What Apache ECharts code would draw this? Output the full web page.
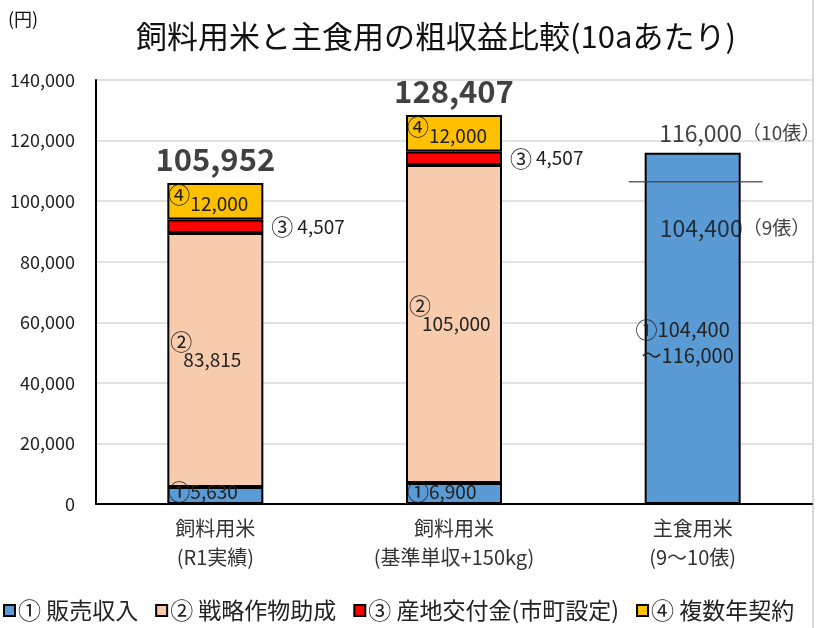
<!DOCTYPE html>
<html>
<head>
<meta charset="utf-8">
<script src="https://cdn.jsdelivr.net/npm/echarts@6/dist/echarts.min.js"></script>
<style>
  html, body { margin: 0; padding: 0; background: #fff; }
  #chart { width: 816px; height: 628px; }
</style>
</head>
<body>
<div id="chart"></div>
<script>
  var categories = ['飼料用米\n(R1実績)', '飼料用米\n(基準単収+150kg)', '主食用米\n(9～10俵)']
  var seriesNames = ['① 販売収入', '② 戦略作物助成', '③ 産地交付金(市町設定)', '④ 複数年契約']
  var sales = [5630, 6900, 116000]
  var subsidy = [83815, 105000, '-']
  var local = [4507, 4507, '-']
  var contract = [12000, 12000, '-']
  var totals = [105952, 128407, 116000]
  var staple9 = 104400
  var staple10 = 116000
  var yTicks = [0, 20000, 40000, 60000, 80000, 100000, 120000, 140000]

  var font = '"Noto Sans CJK JP", "Noto Sans", sans-serif'
  var fmt = function (v) {
    return Number(v).toLocaleString('en-US')
  }
  var circ = { fontSize: 22, color: '#222', fontFamily: font }
  var num = { fontSize: 19, color: '#222', fontFamily: font }
  var border = { borderColor: '#000', borderWidth: 2 }

  var chart = echarts.init(document.getElementById('chart'))

  chart.setOption({
    backgroundColor: '#fff',
    animation: false,
    title: {
      text: '飼料用米と主食用の粗収益比較(10aあたり)',
      left: 431,
      top: 16,
      textAlign: 'center',
      textStyle: { fontSize: 31, fontWeight: 'normal', color: '#111', fontFamily: font },
    },
    graphic: [
      {
        type: 'text',
        left: 8,
        top: 10,
        style: { text: '(円)', fontSize: 18, fill: '#111', fontFamily: font },
      },
      {
        type: 'line',
        shape: { x1: 813, y1: 0, x2: 813, y2: 628 },
        style: { stroke: '#d9d9d9', lineWidth: 2 },
      },
    ],
    legend: {
      left: -2,
      bottom: 1,
      itemWidth: 11,
      itemHeight: 11,
      itemGap: 17,
      icon: 'rect',
      data: seriesNames,
      textStyle: { fontSize: 23, color: '#222', fontFamily: font, padding: [0, 0, 0, -2] },
    },
    grid: { left: 96, right: 4, top: 80, bottom: 124 },
    xAxis: {
      type: 'category',
      data: categories,
      axisTick: { show: false },
      axisLine: { lineStyle: { color: '#000', width: 2 } },
      axisLabel: { fontSize: 20, color: '#333', lineHeight: 29, margin: 10, fontFamily: font },
    },
    yAxis: {
      type: 'value',
      min: 0,
      max: 140000,
      interval: 20000,
      axisLine: { show: true, lineStyle: { color: '#000', width: 2 } },
      axisTick: { show: false },
      axisLabel: {
        fontSize: 18,
        color: '#222',
        margin: 21,
        fontFamily: font,
        formatter: function (v) {
          return yTicks.indexOf(v) >= 0 ? fmt(v) : ''
        },
      },
      splitLine: { lineStyle: { color: '#d9d9d9', width: 1.5 } },
    },
    series: [
      {
        name: seriesNames[0],
        type: 'bar',
        stack: 'total',
        barWidth: 96,
        itemStyle: Object.assign({ color: '#5B9BD5' }, border),
        label: {
          show: true,
          position: 'insideBottomLeft',
          distance: 1,
          rich: { c: circ, v: num },
          formatter: function (p) {
            return '{c|①}{v|' + fmt(p.value) + '}'
          },
        },
        data: [
          sales[0],
          sales[1],
          {
            value: sales[2],
            label: {
              position: 'inside',
              offset: [-10, 14],
              lineHeight: 26,
              rich: {
                c: circ,
                v: { fontSize: 20, color: '#222', fontFamily: font },
              },
              formatter: '{c|①}{v|' + fmt(staple9) + '}\n   {v|～' + fmt(staple10) + '}',
            },
          },
        ],
      },
      {
        name: seriesNames[1],
        type: 'bar',
        stack: 'total',
        itemStyle: Object.assign({ color: '#F8CBAD' }, border),
        label: {
          show: true,
          position: 'insideLeft',
          distance: 3,
          offset: [0, -9],
          lineHeight: 18,
          rich: {
            c: circ,
            v: { fontSize: 19, color: '#222', fontFamily: font, padding: [0, 0, 0, 13] },
          },
          formatter: function (p) {
            return '{c|②}\n{v|' + fmt(p.value) + '}'
          },
        },
        data: subsidy,
      },
      {
        name: seriesNames[2],
        type: 'bar',
        stack: 'total',
        itemStyle: Object.assign({ color: '#FF0000' }, border),
        label: {
          show: true,
          position: 'right',
          distance: 8,
          rich: {
            c: circ,
            v: { fontSize: 19, color: '#222', fontFamily: font, padding: [0, 0, 0, 4] },
          },
          formatter: function (p) {
            return '{c|③}{v|' + fmt(p.value) + '}'
          },
        },
        data: local,
      },
      {
        name: seriesNames[3],
        type: 'bar',
        stack: 'total',
        itemStyle: Object.assign({ color: '#FFC000' }, border),
        label: {
          show: true,
          position: 'insideLeft',
          distance: 1,
          rich: {
            c: { fontSize: 22, color: '#222', fontFamily: font, padding: [0, 0, 14, 0] },
            v: { fontSize: 19, color: '#222', fontFamily: font, padding: [4, 0, 0, 0] },
          },
          formatter: function (p) {
            return '{c|④}{v|' + fmt(p.value) + '}'
          },
        },
        data: contract,
      },
      {
        name: 'totals',
        type: 'scatter',
        symbolSize: 0,
        silent: true,
        label: {
          show: true,
          position: 'top',
          distance: 8,
          fontSize: 31,
          fontWeight: 'bold',
          color: '#111',
          fontFamily: font,
          formatter: function (p) {
            return fmt(p.value)
          },
        },
        data: [
          totals[0],
          totals[1],
          {
            value: totals[2],
            label: {
              offset: [47, -4],
              distance: 4,
              fontSize: 23,
              fontWeight: 'normal',
              rich: { s: { fontSize: 19, color: '#111', fontFamily: font } },
              formatter: fmt(totals[2]) + '{s|（10俵）}',
            },
          },
        ],
      },
      {
        name: 'line9',
        type: 'scatter',
        symbol: 'rect',
        symbolSize: [134, 1.5],
        symbolOffset: [3, -6],
        silent: true,
        itemStyle: { color: '#404040' },
        label: {
          show: true,
          position: [31, 47],
          verticalAlign: 'middle',
          align: 'left',
          fontSize: 23,
          color: '#111',
          fontFamily: font,
          rich: { s: { fontSize: 19, color: '#111', fontFamily: font } },
          formatter: fmt(staple9) + '{s|（9俵）}',
        },
        data: ['-', '-', staple9],
      },
    ],
  })
</script>
</body>
</html>
